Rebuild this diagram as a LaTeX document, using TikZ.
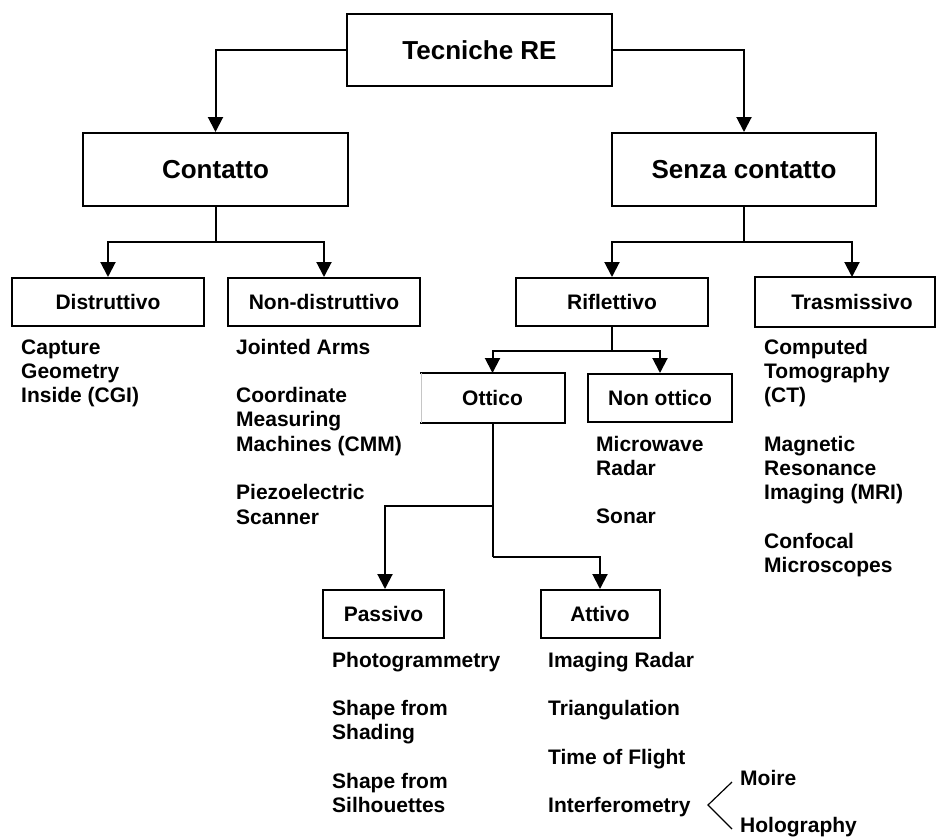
\documentclass[tikz,border=0pt]{standalone}
\usepackage{fontspec}
\setmainfont{Liberation Sans}
\usetikzlibrary{arrows.meta}
% a column of entries, first baseline on the node's base
\newcommand{\itemcol}[1]{\begin{tabular}[t]{@{}l@{}}#1\end{tabular}}
\newcommand{\gap}{\\[24.3pt]}
\begin{document}
\begin{tikzpicture}[x=1pt,y=-1pt,
  box/.style={draw, line width=2pt, inner sep=0pt, text height=15pt, text depth=0pt,
              font=\fontsize{21}{24.3}\selectfont\bfseries, minimum height=48pt},
  bigbox/.style={box, text height=18.6pt, font=\fontsize{26}{30}\selectfont\bfseries},
  items/.style={anchor=base west, inner sep=0pt, font=\fontsize{21}{24.3}\selectfont\bfseries},
  link/.style={line width=2pt},
  arr/.style={link, -{Triangle[width=15pt,length=15pt]}},
  thin/.style={line width=1.2pt},
]
\useasboundingbox (0,0) rectangle (937,836);

% ---- boxes
\node[bigbox, minimum width=265pt, minimum height=72pt] (tec) at (479.5,50) {Tecniche RE};
\node[bigbox, minimum width=265pt, minimum height=73pt] (con) at (215.5,169.5) {Contatto};
\node[bigbox, minimum width=264pt, minimum height=73pt] (sen) at (744,169.5) {Senza contatto};

\node[box, minimum width=192pt] (dis)  at (108,302) {Distruttivo};
\node[box, minimum width=192pt] (nond) at (324,302) {Non-distruttivo};
\node[box, minimum width=192pt] (rif)  at (612,302) {Riflettivo};
\node[box, draw=none, minimum width=192pt] (tra) at (852,302) {Trasmissivo};
\draw[link] (tra.north west) rectangle ([xshift=-14pt]tra.south east);

\node[box, draw=none, minimum width=143pt] (ott) at (492.5,398) {Ottico};
\draw[link] (ott.north west) -- (ott.north east) -- (ott.south east) -- (ott.south west);
\draw[gray!45, line width=0.6pt] ([xshift=1.5pt]ott.north west) -- ([xshift=1.5pt]ott.south west);
\node[box, minimum width=144pt] (non) at (660,398) {Non ottico};

\node[box, minimum width=121pt] (pas) at (383.5,614) {Passivo};
\node[box, minimum width=119pt] (att) at (600,614) {Attivo};

% ---- connectors
\draw[arr] (tec.west) -| (con.north);
\draw[arr] (tec.east) -| (sen.north);

\coordinate (jc) at (215.5,242);
\draw[link] (con.south) -- (jc);
\draw[arr] (jc) -| (dis.north);
\draw[arr] (jc) -| (nond.north);

\coordinate (js) at (744,242);
\draw[link] (sen.south) -- (js);
\draw[arr] (js) -| (rif.north);
\draw[arr] (js) -| (tra.north);

\coordinate (jr) at (612,351);
\draw[link] (rif.south) -- (jr);
\draw[arr] (jr) -| (ott.north);
\draw[arr] (jr) -| (non.north);

\coordinate (jo1) at (492.5,506);
\coordinate (jo2) at (492.5,557);
\draw[link] (ott.south) -- (jo1) -- (jo2);
\draw[arr] (jo1) -| ([xshift=1.5pt]pas.north);
\draw[arr] (jo2) -| (att.north);

% ---- entries under the boxes
\node[items] (disl) at (21,354) {\itemcol{Capture\\Geometry\\Inside (CGI)}};
\node[items] (nondl) at (236,354) {\itemcol{Jointed Arms\gap Coordinate\\Measuring\\Machines (CMM)\gap Piezoelectric\\Scanner}};
\node[items] (nonl) at (596,451) {\itemcol{Microwave\\Radar\gap Sonar}};
\node[items] (tral) at (764,354) {\itemcol{Computed\\Tomography\\(CT)\gap Magnetic\\Resonance\\Imaging (MRI)\gap Confocal\\Microscopes}};
\node[items] (pasl) at (332,667) {\itemcol{Photogrammetry\gap Shape from\\Shading\gap Shape from\\Silhouettes}};
\node[items] (attl) at (548,667) {\itemcol{Imaging Radar\gap Triangulation\gap Time of Flight\gap Interferometry}};

\node[items] (moire) at (740,785) {Moire};
\node[items] (holo) at (740,832) {Holography};

% ---- fork towards the two interferometry methods
\coordinate (fork) at (708,805);
\coordinate (forkup) at (732,782);
\coordinate (forkdn) at (732,829);
\draw[thin] (forkup) -- (fork) -- (forkdn);
\end{tikzpicture}
\end{document}
